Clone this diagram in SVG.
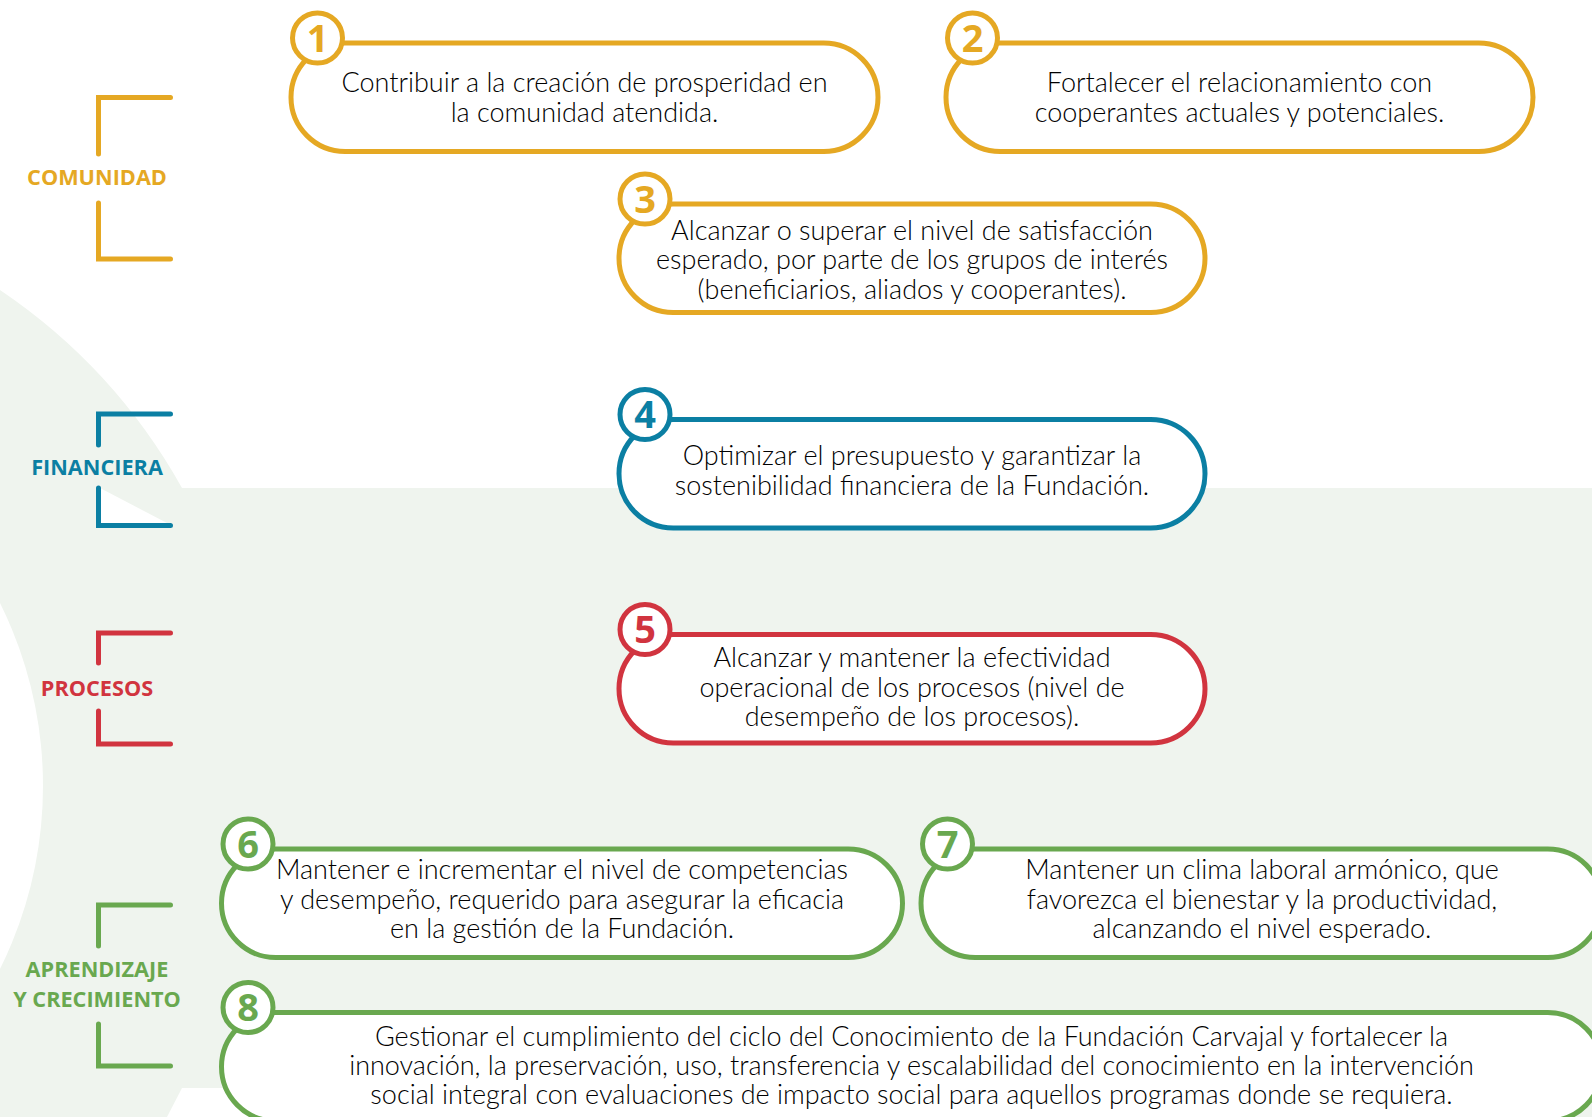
<svg xmlns="http://www.w3.org/2000/svg" width="1592" height="1117" viewBox="0 0 1592 1117">
<style>
.pill{fill:#fff;stroke-width:5}
.num{fill:#fff;stroke-width:5}
.digit{font-family:"Open Sans","Noto Sans",sans-serif;font-weight:700;font-size:38px;text-anchor:middle}
.body{font-family:Lato,"Open Sans",sans-serif;font-weight:300;font-size:27px;fill:#000;text-anchor:middle}
.cat{font-family:"Open Sans","Noto Sans",sans-serif;font-weight:700;font-size:21.7px;text-anchor:middle}
.br{fill:none;stroke-width:5;stroke-linecap:round;stroke-linejoin:miter}
.gold{stroke:#E5A823}.teal{stroke:#0B7FA3}.red{stroke:#D1343F}.green{stroke:#69A84F}
.fgold{fill:#E5A823}.fteal{fill:#0B7FA3}.fred{fill:#D1343F}.fgreen{fill:#69A84F}
</style>
<g id="background">
<rect x="0" y="0" width="1592" height="1117" fill="#EFF4EE"/>
<path d="M0,0 H1592 V488 H182 A580,580 0 0 0 0,290 Z" fill="#fff"/>
<circle cx="-368" cy="786" r="411" fill="#fff"/>
<path d="M182,1088 H700 V1117 H167 Z" fill="#fff"/>
<path d="M100,488 L167,523 L100,523 Z" fill="#fff"/>
</g>
<g id="categories">
<g id="cat-comunidad">
<path class="br gold" d="M98.5,154 V97.5 H170.5 M98.5,203 V259 H170.5"/>
<text class="cat fgold" x="97" y="184.5">COMUNIDAD</text>
</g>
<g id="cat-financiera">
<path class="br teal" d="M98.5,445 V414 H170.5 M98.5,488 V525.5 H170.5"/>
<text class="cat fteal" x="97" y="474.5">FINANCIERA</text>
</g>
<g id="cat-procesos">
<path class="br red" d="M98.5,663 V633 H170.5 M98.5,711 V744 H170.5"/>
<text class="cat fred" x="97" y="696">PROCESOS</text>
</g>
<g id="cat-aprendizaje">
<path class="br green" d="M98.5,946 V905 H170.5 M98.5,1024 V1066 H170.5"/>
<text class="cat fgreen" x="97" y="976.5">APRENDIZAJE</text>
<text class="cat fgreen" x="97" y="1006.5">Y CRECIMIENTO</text>
</g>
</g>
<g id="connectors"></g>
<g id="node-1">
<rect class="pill gold" x="291" y="43" width="587" height="108.5" rx="54.25"/>
<circle class="num gold" cx="317.5" cy="38" r="25"/>
<text class="digit fgold" x="317.5" y="51.5">1</text>
<text class="body" x="584.5" y="92">Contribuir a la creación de prosperidad en</text>
<text class="body" x="584.5" y="121.5">la comunidad atendida.</text>
</g>
<g id="node-2">
<rect class="pill gold" x="946" y="43" width="587" height="108.5" rx="54.25"/>
<circle class="num gold" cx="972.5" cy="38" r="25"/>
<text class="digit fgold" x="972.5" y="51.5">2</text>
<text class="body" x="1239.5" y="92">Fortalecer el relacionamiento con</text>
<text class="body" x="1239.5" y="121.5">cooperantes actuales y potenciales.</text>
</g>
<g id="node-3">
<rect class="pill gold" x="619" y="204" width="586" height="108.5" rx="54.25"/>
<circle class="num gold" cx="645" cy="199" r="25"/>
<text class="digit fgold" x="645" y="212.5">3</text>
<text class="body" x="912" y="239.5">Alcanzar o superar el nivel de satisfacción</text>
<text class="body" x="912" y="269">esperado, por parte de los grupos de interés</text>
<text class="body" x="912" y="298.5">(beneficiarios, aliados y cooperantes).</text>
</g>
<g id="node-4">
<rect class="pill teal" x="619" y="419.5" width="586" height="108.5" rx="54.25"/>
<circle class="num teal" cx="645" cy="414.5" r="25"/>
<text class="digit fteal" x="645" y="428">4</text>
<text class="body" x="912" y="465">Optimizar el presupuesto y garantizar la</text>
<text class="body" x="912" y="494.5">sostenibilidad financiera de la Fundación.</text>
</g>
<g id="node-5">
<rect class="pill red" x="619" y="634.5" width="586" height="108.5" rx="54.25"/>
<circle class="num red" cx="645" cy="629.5" r="25"/>
<text class="digit fred" x="645" y="643">5</text>
<text class="body" x="912" y="667">Alcanzar y mantener la efectividad</text>
<text class="body" x="912" y="696.5">operacional de los procesos (nivel de</text>
<text class="body" x="912" y="726">desempeño de los procesos).</text>
</g>
<g id="node-6">
<rect class="pill green" x="221.5" y="849" width="681" height="108.5" rx="54.25"/>
<circle class="num green" cx="248" cy="844" r="25"/>
<text class="digit fgreen" x="248" y="857.5">6</text>
<text class="body" x="562" y="879">Mantener e incrementar el nivel de competencias</text>
<text class="body" x="562" y="908.5">y desempeño, requerido para asegurar la eficacia</text>
<text class="body" x="562" y="938">en la gestión de la Fundación.</text>
</g>
<g id="node-7">
<rect class="pill green" x="921" y="849" width="681" height="108.5" rx="54.25"/>
<circle class="num green" cx="947.5" cy="844" r="25"/>
<text class="digit fgreen" x="947.5" y="857.5">7</text>
<text class="body" x="1262" y="879">Mantener un clima laboral armónico, que</text>
<text class="body" x="1262" y="908.5">favorezca el bienestar y la productividad,</text>
<text class="body" x="1262" y="938">alcanzando el nivel esperado.</text>
</g>
<g id="node-8">
<rect class="pill green" x="221.5" y="1012.5" width="1380.5" height="108.5" rx="54.25"/>
<circle class="num green" cx="248" cy="1007.5" r="25"/>
<text class="digit fgreen" x="248" y="1021">8</text>
<text class="body" x="911.5" y="1045.5">Gestionar el cumplimiento del ciclo del Conocimiento de la Fundación Carvajal y fortalecer la</text>
<text class="body" x="911.5" y="1075">innovación, la preservación, uso, transferencia y escalabilidad del conocimiento en la intervención</text>
<text class="body" x="911.5" y="1104">social integral con evaluaciones de impacto social para aquellos programas donde se requiera.</text>
</g>
</svg>
